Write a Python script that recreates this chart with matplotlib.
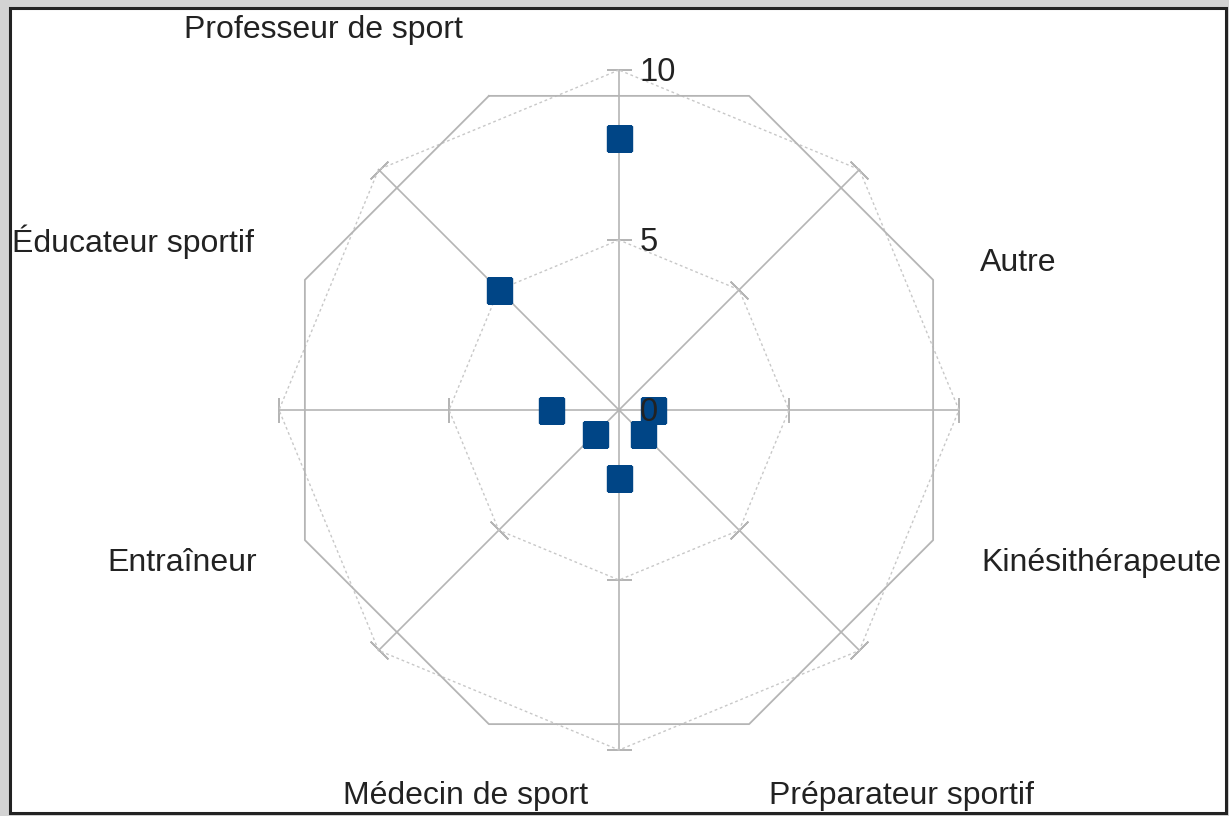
import numpy as np
import matplotlib.pyplot as plt
from matplotlib.patches import Rectangle

plt.rcParams['font.family'] = ['Liberation Sans', 'DejaVu Sans']

# data
categories = ["Professeur de sport", "Éducateur sportif", "Entraîneur", "Médecin de sport",
              "Préparateur sportif", "Kinésithérapeute", "Autre"]
values = [8, 5, 2, 1, 2, 1, 1]
r_ticks = [0, 5, 10]
n_spokes = 8

# label anchor points (pixels, left edge / vertical centre)
label_pos = [(184, 30), (12, 242), (107, 563), (343, 796), (769, 796), (981, 563), (980, 263)]

W, H = 1229, 816
fig = plt.figure(figsize=(W / 100, H / 100), dpi=100)
fig.patch.set_facecolor('#d3d3d3')
fig.patches.append(Rectangle((10 / W, 3 / H), 1216 / W, 805 / H, transform=fig.transFigure,
                             facecolor='white', edgecolor='#222222', linewidth=2.2, zorder=-1))

cx, cy, rad = 619, 410, 340
ax = fig.add_axes([(cx - rad) / W, (H - cy - rad) / H, 2 * rad / W, 2 * rad / H], projection='polar')
ax.set_facecolor('none')
ax.set_ylim(0, 10)
ax.grid(False)
ax.spines['polar'].set_visible(False)
ax.set_xticks([])
ax.set_yticks([])

spoke_angles = np.deg2rad(90 + 45 * np.arange(n_spokes))
gray = '#b5b5b5'

# spokes with small cross ticks at 5 and 10
for a in spoke_angles:
    ax.plot([a, a], [0, 10], color=gray, lw=1.2, clip_on=False, zorder=1)
    ax.plot([a, a], [5, 10], ls='none', marker=(2, 2, np.rad2deg(a)), ms=18,
            mec=gray, mew=1.2, clip_on=False, zorder=1)

# dotted grid polygons through the spokes
closed = np.append(spoke_angles, spoke_angles[0])
for r in [5, 10]:
    ax.plot(closed, [r] * len(closed), color='#c8c8c8', lw=1.0, ls=(0, (2, 2)),
            clip_on=False, zorder=1)

# solid outer octagon, turned half a step
oct_angles = np.append(spoke_angles + np.pi / 8, spoke_angles[0] + np.pi / 8)
ax.plot(oct_angles, [10] * len(oct_angles), color=gray, lw=1.3, clip_on=False, zorder=1)

# data points
ax.plot(spoke_angles[:len(values)], values, ls='none', marker='s', ms=18,
        color='#004586', zorder=3)

# radial tick labels
for r in r_ticks:
    ax.annotate(str(r), xy=(np.pi / 2, r), xytext=(21, -3), textcoords='offset pixels',
                ha='left', va='center', fontsize=23.5, color='#222222', zorder=4,
                annotation_clip=False)

for name, (px, py) in zip(categories, label_pos):
    fig.text(px / W, 1 - py / H, name, ha='left', va='center', fontsize=23, color='#222222')

fig.savefig('out.png', dpi=100, facecolor=fig.get_facecolor())
